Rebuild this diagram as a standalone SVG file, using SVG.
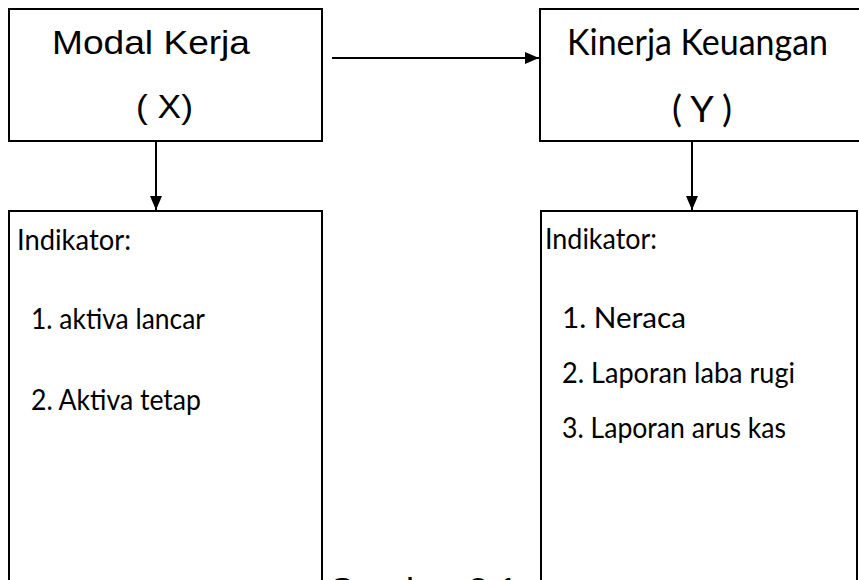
<svg xmlns="http://www.w3.org/2000/svg" width="859" height="580" viewBox="0 0 859 580">
<defs>
<style>
.box{fill:#fff;stroke:#000;stroke-width:2}
.ar{font-family:"Liberation Sans",Arial,sans-serif;fill:#000}
.cal{font-family:Lato,"Open Sans",sans-serif;fill:#000}
.big{font-size:36px}
.arb{font-size:34px}
.sm{font-size:28px}
.conn{stroke:#000;stroke-width:2;fill:none}
</style>
<marker id="ah" viewBox="0 0 14 12" refX="14" refY="6" markerWidth="14" markerHeight="12" markerUnits="userSpaceOnUse" orient="auto">
<path d="M0,0 L14,6 L0,12 Z" fill="#000"/>
</marker>
</defs>
<rect width="859" height="580" fill="#fff"/>
<g id="modal-kerja">
<rect class="box" x="9" y="9" width="313" height="132"/>
<text class="ar arb" x="52" y="54" textLength="198" lengthAdjust="spacingAndGlyphs">Modal Kerja</text>
<text class="ar arb" x="136" y="118" textLength="57" lengthAdjust="spacingAndGlyphs">( X)</text>
</g>
<g id="kinerja-keuangan">
<rect class="box" x="540" y="9" width="330" height="132"/>
<text class="cal big" x="567" y="55" textLength="261" lengthAdjust="spacingAndGlyphs">Kinerja Keuangan</text>
<text class="cal big" x="672" y="122" textLength="60" lengthAdjust="spacingAndGlyphs">( Y )</text>
</g>
<g id="indikator-x">
<rect class="box" x="9" y="211" width="313" height="400"/>
<text class="cal sm" x="17" y="250" textLength="114" lengthAdjust="spacingAndGlyphs">Indikator:</text>
<text class="cal sm" x="31" y="329" textLength="174" lengthAdjust="spacingAndGlyphs">1. aktiva lancar</text>
<text class="cal sm" x="31" y="410" textLength="170" lengthAdjust="spacingAndGlyphs">2. Aktiva tetap</text>
</g>
<g id="indikator-y">
<rect class="box" x="541" y="211" width="316" height="400"/>
<text class="cal sm" x="545" y="249" textLength="112" lengthAdjust="spacingAndGlyphs">Indikator:</text>
<text class="cal sm" x="562" y="328" textLength="124" lengthAdjust="spacingAndGlyphs">1. Neraca</text>
<text class="cal sm" x="562" y="383" textLength="233" lengthAdjust="spacingAndGlyphs">2. Laporan laba rugi</text>
<text class="cal sm" x="562" y="438" textLength="224" lengthAdjust="spacingAndGlyphs">3. Laporan arus kas</text>
</g>
<g id="caption">
<text class="ar big" x="328" y="604">Gambar 2.1</text>
</g>
<g id="connectors">
<line class="conn" x1="332" y1="58" x2="539" y2="58" marker-end="url(#ah)"/>
<line class="conn" x1="156" y1="141" x2="156" y2="210" marker-end="url(#ah)"/>
<line class="conn" x1="692" y1="141" x2="692" y2="210" marker-end="url(#ah)"/>
</g>
</svg>
